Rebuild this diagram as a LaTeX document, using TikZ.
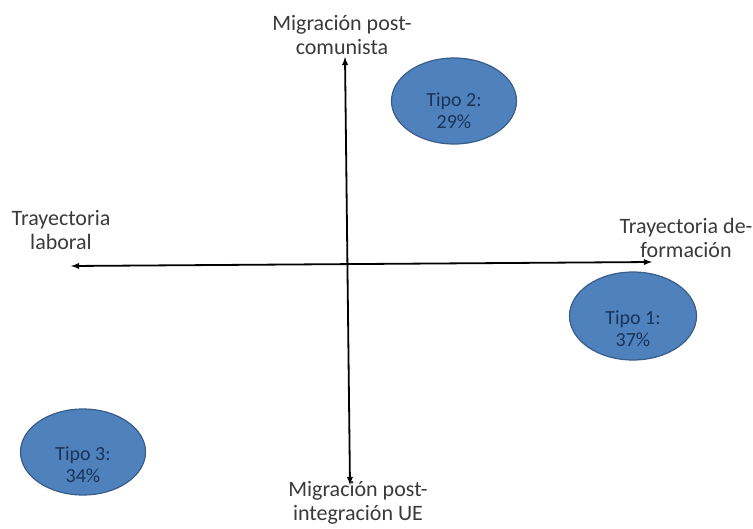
\documentclass[tikz,border=0pt]{standalone}
\usepackage{fontspec}
\setmainfont{Carlito}
\usepackage{tikz}
\usepackage{xcolor}
\usetikzlibrary{positioning,shapes,arrows}

\definecolor{tipofill}{HTML}{4F81BD}
\definecolor{tipoline}{HTML}{385D8A}
\definecolor{tipotext}{HTML}{1A3356}
\definecolor{ejetext}{HTML}{3A3A3A}

\begin{document}
\begin{tikzpicture}[x=1pt,y=-1pt]
\tikzstyle{every node}+=[inner sep=0pt]
\tikzstyle{tipo}=[ellipse,draw=tipoline,line width=1.2pt,fill=tipofill,minimum width=125pt,minimum height=86pt]
\tikzstyle{tipotexto}=[text=tipotext,align=center,font=\fontsize{20}{22}\selectfont]
\tikzstyle{eje}=[text=ejetext,align=center,font=\fontsize{22}{24}\selectfont]
\tikzstyle{flecha}=[line width=1.8pt,latex-latex]
\useasboundingbox (0,0) rectangle (753,528);
% ejes
\coordinate (izq) at (71,266);
\coordinate (der) at (652,262);
\coordinate (arr) at (345,57);
\coordinate (aba) at (350,485);
\draw [flecha] (izq) -- (der);
\draw [flecha] (arr) -- (aba);
% etiquetas de los ejes
\node [eje] (comunista) at (342,35) {Migración post-\\comunista};
\node [eje] (integracion) at (358,503) {Migración post-\\integración UE};
\node [eje] (laboral) at (61,230) {Trayectoria\\laboral};
\node [eje] (formacion) at (686,238) {Trayectoria de-\\formación};
% tipos
\node [tipo] (tipo2) at (454,101) {};
\node [tipotexto] (tipo2texto) at ([yshift=-10pt]tipo2.center) {Tipo 2:\\29\%};
\node [tipo,minimum width=127pt,minimum height=88pt] (tipo1) at (633,316) {};
\node [tipotexto] (tipo1texto) at ([yshift=-13pt]tipo1.center) {Tipo 1:\\37\%};
\node [tipo] (tipo3) at (83,452) {};
\node [tipotexto] (tipo3texto) at ([yshift=-13pt]tipo3.center) {Tipo 3:\\34\%};
\end{tikzpicture}
\end{document}
